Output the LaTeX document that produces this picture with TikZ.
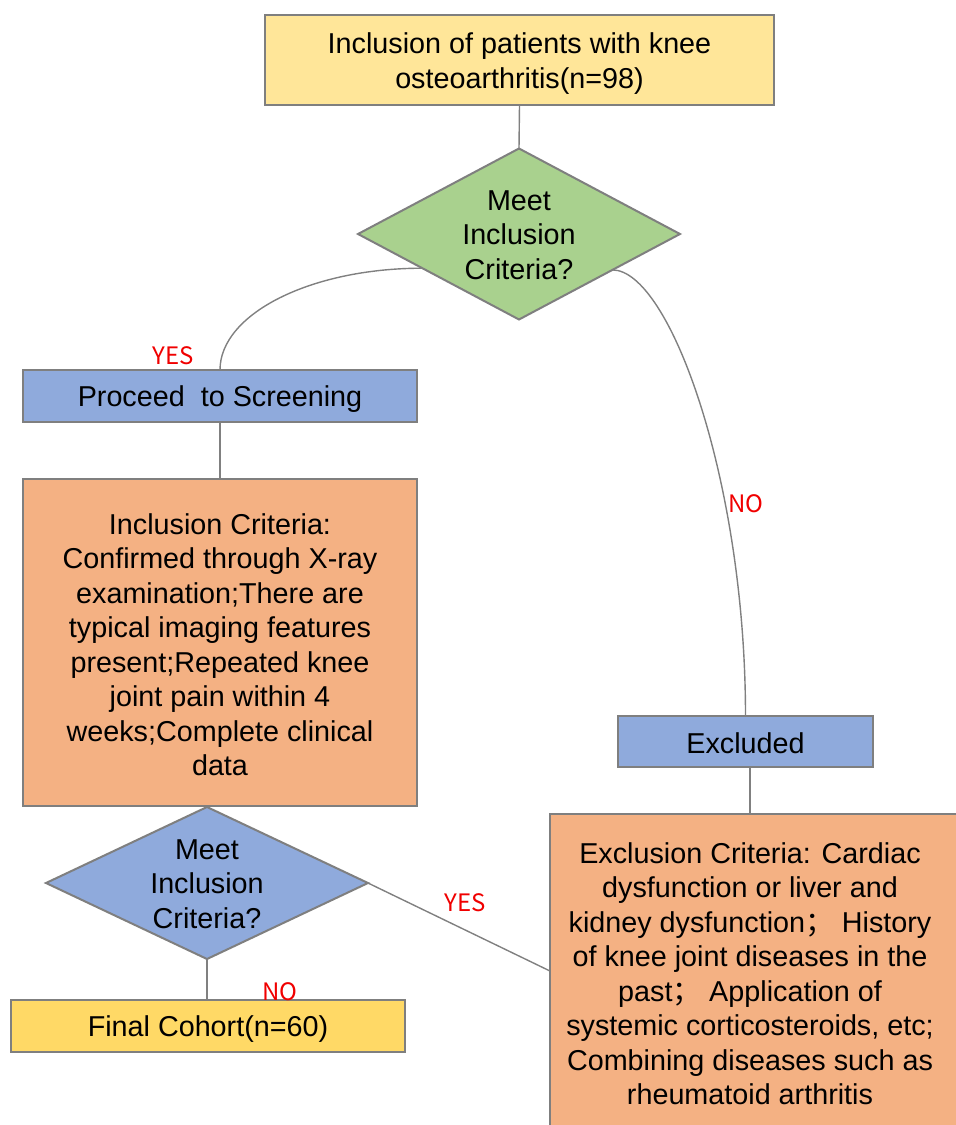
\documentclass[tikz,border=0pt]{standalone}
\usepackage{fontspec}
\setmainfont{Liberation Sans}
\newfontfamily\cjk{Noto Sans CJK SC}
\usetikzlibrary{shapes.geometric,calc}
\definecolor{bordergray}{HTML}{7F7F7F}
\definecolor{linegray}{HTML}{808080}
\definecolor{topyellow}{HTML}{FFE699}
\definecolor{finalyellow}{HTML}{FFD966}
\definecolor{greenfill}{HTML}{A9D18E}
\definecolor{bluefill}{HTML}{8FAADC}
\definecolor{orangefill}{HTML}{F4B183}
\definecolor{labelred}{HTML}{F00000}
\begin{document}
\begin{tikzpicture}[x=1pt,y=-1pt,
  box/.style={draw=bordergray, line width=2pt, rectangle, inner sep=0pt, outer sep=0pt},
  dia/.style={draw=bordergray, line width=2pt, diamond, inner sep=0pt, outer sep=0pt, aspect=2},
  txt/.style={align=center, inner sep=0pt, font=\fontsize{28.75}{34.5}\selectfont},
  conn/.style={draw=linegray, line width=1.4pt},
  lab/.style={text=labelred, font=\cjk\fontsize{24}{28}\selectfont, inner sep=0pt}]
\useasboundingbox (0,0) rectangle (956,1125);
% nodes
\node[box, fill=topyellow, minimum width=509pt, minimum height=90pt] (top) at (519.5,60) {};
\node[txt] (topt) at ($(top.center)+(0,3.5)$) {Inclusion of patients with knee\\osteoarthritis(n=98)};
\node[dia, fill=greenfill, minimum width=322pt, minimum height=171pt] (d1) at (519,234) {};
\node[txt] (d1t) at ($(d1.center)+(0,1)$) {Meet\\Inclusion\\Criteria?};
\node[box, fill=bluefill, minimum width=394pt, minimum height=52pt] (proc) at (220,396) {};
\node[txt] (proct) at ($(proc.center)+(0,3.5)$) {Proceed\ \ to Screening};
\node[box, fill=orangefill, minimum width=394pt, minimum height=327pt] (incl) at (220,642.5) {};
\node[txt] (inclt) at ($(incl.center)+(0,2)$) {Inclusion Criteria:\\Confirmed through X-ray\\examination;There are\\typical imaging features\\present;Repeated knee\\joint pain within 4\\weeks;Complete clinical\\data};
\node[dia, fill=bluefill, minimum width=322pt, minimum height=152pt] (d2) at (207,883) {};
\node[txt] (d2t) at ($(d2.center)+(0,1)$) {Meet\\Inclusion\\Criteria?};
\node[box, fill=finalyellow, minimum width=394pt, minimum height=52pt] (final) at (208,1026) {};
\node[txt] (finalt) at ($(final.center)+(0,3)$) {Final Cohort(n=60)};
\node[box, fill=bluefill, minimum width=255pt, minimum height=51pt] (exd) at (745.5,741.5) {};
\node[txt] (exdt) at ($(exd.center)+(0,2)$) {Excluded};
\begin{scope}
\clip (0,0) rectangle (956,1125);
\node[box, fill=orangefill, minimum width=415pt, minimum height=322pt] (excl) at (757.5,975) {};
\end{scope}
\node[txt] (exclt) at (750,973.5) {Exclusion Criteria: Cardiac\\dysfunction or liver and\\kidney dysfunction{\cjk ；} History\\of knee joint diseases in the\\past{\cjk ；} Application of\\systemic corticosteroids, etc;\\Combining diseases such as\\rheumatoid arthritis};
% labels
\node[lab] (yes1) at (173,356) {YES};
\node[lab] (no1) at (746,504) {NO};
\node[lab] (yes2) at (465,903) {YES};
\node[lab] (no2) at (280,992) {NO};
% connectors
\coordinate (exin) at ($(excl.north west)+(0,157)$);
\coordinate (exdb) at ($(exd.south)+(4.5,0)$);
\draw[conn] (top.south) -- (d1.north);
\draw[conn] ($(d1.west)!0.4!(d1.south)$) .. controls +(-112,0) and +(0,-56) .. (proc.north);
\draw[conn] ($(d1.east)!0.42!(d1.south)$) .. controls +(57,0) and +(0,-236) .. (exd.north);
\draw[conn] (proc.south) -- (incl.north);
\draw[conn] (d2.south) -- (d2.south |- final.north);
\draw[conn] (d2.east) -- (exin);
\draw[conn] (exdb) -- (exdb |- excl.north);
\end{tikzpicture}
\end{document}
